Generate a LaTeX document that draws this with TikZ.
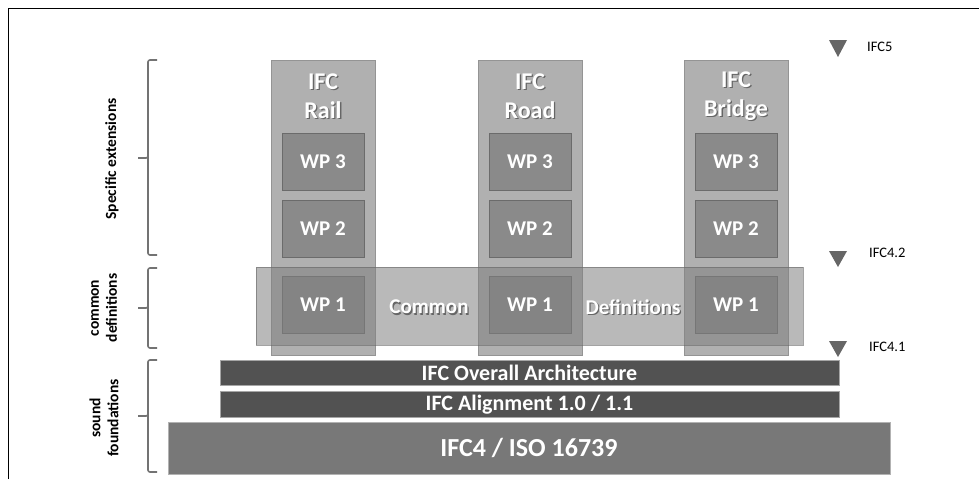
\documentclass[tikz,border=0pt]{standalone}
\usepackage{fontspec}
\setmainfont{Carlito}
\begin{document}
\begin{tikzpicture}[x=1pt,y=-1pt,
  col/.style={draw=black!42,line width=0.8pt,fill=black!31,anchor=north west,minimum width=104pt,minimum height=295pt,inner sep=0pt},
  wp/.style={draw=black!58,line width=0.8pt,fill=black!46,minimum width=82pt,minimum height=57pt,inner sep=0pt,text=white,font=\bfseries\fontsize{21}{23}\selectfont},
  band/.style={draw=black!60,line width=0.8pt,fill=black!50,fill opacity=0.55,draw opacity=0.6,anchor=north west,minimum width=547pt,minimum height=78pt,inner sep=0pt},
  ttl/.style={text=white,font=\bfseries\fontsize{24}{29}\selectfont,align=center,inner sep=0pt},
  shd/.style={text=black!60,font=\bfseries\fontsize{24}{29}\selectfont,align=center,inner sep=0pt},
  mid/.style={font=\bfseries\fontsize{21}{23}\selectfont,inner sep=0pt},
  bartext/.style={text=white,font=\bfseries\fontsize{22}{24}\selectfont,inner sep=0pt},
  darkbar/.style={draw=black!35,line width=0.6pt,fill=black!68,anchor=north west,inner sep=0pt,text=white},
  lbl/.style={font=\bfseries\fontsize{15.5}{18}\selectfont,align=center,inner sep=0pt},
  ver/.style={font=\fontsize{14.5}{15}\selectfont,anchor=west,inner sep=0pt},
  tri/.style={fill=black!60,draw=none},
  brace/.style={draw=black!55,line width=1.6pt,rounded corners=2pt}
]
\useasboundingbox (0,0) rectangle (979,479);
\fill[white] (0,0) rectangle (979,479);
% frame
\draw[line width=1.8pt] (8.5,479) -- (8.5,8.5) -- (979,8.5);

% columns
\node[col] (rail) at (271,60) {};
\node[col] (road) at (478,60) {};
\node[col] (bridge) at (684,60) {};

% titles (with shadow)
\foreach \n/\x/\t in {r/323/Rail,o/530/Road,b/736/Bridge}{
  \node[shd] at (\x+1.3,97.3) {IFC\\\t};
  \node[ttl] (t\n) at (\x,96) {IFC\\\t};
}

% WP boxes
\foreach \n/\x in {r/323,o/530,b/736}{
  \node[wp] (wp3\n) at (\x,161.5) {WP 3};
  \node[wp] (wp2\n) at (\x,228.5) {WP 2};
  \node[wp,text opacity=0] (wp1\n) at (\x,305) {WP 1};
}

% common definitions band
\node[band] (common) at (256,267) {};
\node[mid,text=black!60] at (430.3,308.3) {Common};
\node[mid,text=white] (ctext) at (429,307) {Common};
\node[mid,text=black!60] at (634.3,308.3) {Definitions};
\node[mid,text=white] (dtext) at (633,307) {Definitions};
\foreach \n/\x in {r/323,o/530,b/736}{
  \node[mid,text=white] at (\x,305) {WP 1};
}

% bars
\node[darkbar,minimum width=619pt,minimum height=25pt] (arch) at (220,360) {};
\node[bartext] at (529.5,373) {IFC Overall Architecture};
\node[darkbar,minimum width=619pt,minimum height=26pt] (align) at (220,391) {};
\node[bartext] at (529.5,404.5) {IFC Alignment 1.0 / 1.1};
\node[darkbar,fill=black!53,draw=black!30,minimum width=722pt,minimum height=52pt] (ifc4) at (168,422) {};
\node[text=white,font=\bfseries\fontsize{26}{29}\selectfont,inner sep=0pt] at (529,448) {IFC4 / ISO 16739};

% version markers
\fill[tri] (829,40) -- (847,40) -- (838,57) -- cycle;
\node[ver] (v5) at (867,47) {IFC5};
\fill[tri] (829,251) -- (847,251) -- (838,267) -- cycle;
\node[ver] (v42) at (869,253) {IFC4.2};
\fill[tri] (829,341) -- (847,341) -- (838,357) -- cycle;
\node[ver] (v41) at (869,347) {IFC4.1};

% braces
\draw[brace] (157,60) -- (148,60) -- (148,158) -- (138,158);
\draw[brace] (148,156) -- (148,255) -- (157,255);
\draw[brace] (157,268) -- (148,268) -- (148,308) -- (138,308);
\draw[brace] (148,306) -- (148,348) -- (157,348);
\draw[brace] (157,360) -- (148,360) -- (148,416) -- (138,416);
\draw[brace] (148,414) -- (148,472) -- (157,472);

% brace labels
\node[lbl,rotate=90] (lse) at (112,159) {Specific extensions};
\node[lbl,rotate=90] (lcd) at (104,308) {common\\definitions};
\node[lbl,rotate=90] (lsf) at (104,418) {sound\\foundations};
\end{tikzpicture}
\end{document}
